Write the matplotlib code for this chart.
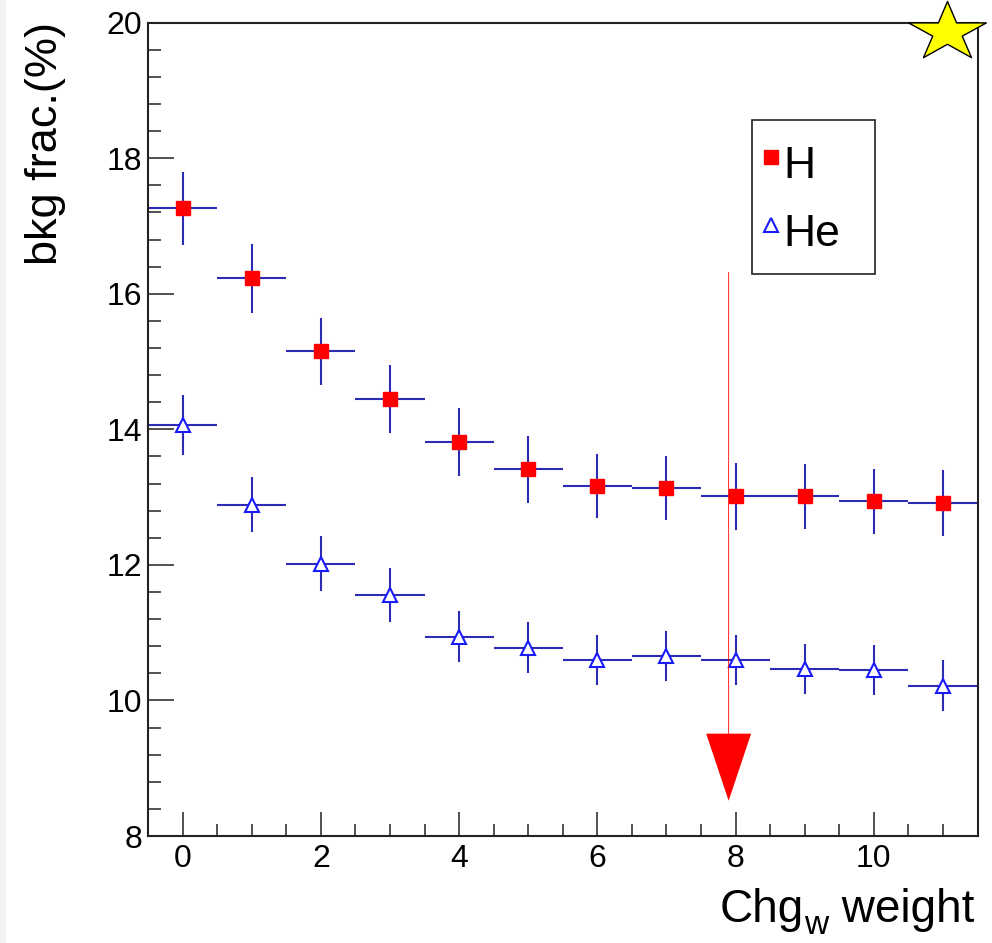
import numpy as np
import matplotlib
matplotlib.use("Agg")
import matplotlib.pyplot as plt
from matplotlib.lines import Line2D
from matplotlib.patches import Rectangle
from matplotlib.path import Path

plt.rcParams['font.family'] = ['Liberation Sans', 'DejaVu Sans']

# charge-weight bins
chg_weight = np.arange(12)
bin_half = 0.5

# background fraction (%) for H and He samples
h_frac = [17.26, 16.23, 15.15, 14.45, 13.81, 13.41, 13.16, 13.13, 13.01, 13.01, 12.94, 12.91]
h_err = [0.54, 0.51, 0.50, 0.50, 0.50, 0.49, 0.47, 0.47, 0.49, 0.48, 0.48, 0.49]
he_frac = [14.06, 12.89, 12.02, 11.56, 10.94, 10.78, 10.60, 10.65, 10.60, 10.47, 10.45, 10.22]
he_err = [0.44, 0.40, 0.40, 0.40, 0.38, 0.38, 0.37, 0.37, 0.37, 0.37, 0.37, 0.37]

# chosen cut
cut_x = 7.9
cut_top = 16.32
cut_tip = 8.52

err_color = '#2b2bb5'
W, H = 992, 943

fig = plt.figure(figsize=(W / 100, H / 100), dpi=100)
fig.patch.set_facecolor('white')
fig.add_artist(Rectangle((0, 0), 6 / W, 1, transform=fig.transFigure,
                         facecolor='#f3f3f3', edgecolor='none'))

ax = fig.add_axes([148 / W, 1 - 836 / H, 829.5 / W, 813.3 / H])

for frac, err in [(h_frac, h_err), (he_frac, he_err)]:
    ax.errorbar(chg_weight, frac, yerr=err, xerr=bin_half, fmt='none',
                ecolor=err_color, elinewidth=1.5, capsize=0, zorder=2)

ax.plot(chg_weight, h_frac, ls='none', marker='s', ms=10, mfc='red',
        mec='red', zorder=3)
ax.plot(chg_weight, he_frac, ls='none', marker='^', ms=10.5, mfc='white',
        mec='#1a1aff', mew=1.5, zorder=3)

# cut arrow
ax.arrow(cut_x, cut_top, 0, cut_tip - cut_top, width=0.012, head_width=0.65,
         head_length=0.99, length_includes_head=True, fc='red', ec='none',
         zorder=4)

ax.set_xlim(-0.5, 11.5)
ax.set_ylim(8, 20)
ax.set_xticks(np.arange(0, 11, 2))
ax.set_xticks(np.arange(-0.5, 11.6, 0.5), minor=True)
ax.set_yticks(np.arange(8, 20.1, 2))
ax.set_yticks(np.arange(8, 20.1, 0.4), minor=True)

ax.tick_params(which='both', direction='in', top=False, right=False,
               width=1.1, color='#222222', labelsize=23)
ax.tick_params(axis='y', which='major', length=18.7, pad=4)
ax.tick_params(axis='y', which='minor', length=9.4)
ax.tick_params(axis='x', which='major', length=17, pad=6)
ax.tick_params(axis='x', which='minor', length=8.6)
for sp in ax.spines.values():
    sp.set_linewidth(1.5)
    sp.set_color('#222222')

fig.text(46 / W, 1 - 22 / H, 'bkg frac.(%)', rotation=90, ha='center',
         va='top', fontsize=32.5)

# x title with a lowered subscript, laid out right to left
renderer = fig.canvas.get_renderer()
fs = 33
base_px = 922
t3 = fig.text(974 / W, 1 - base_px / H, ' weight', ha='right', va='baseline',
              fontsize=fs)
x3 = t3.get_window_extent(renderer).x0
t2 = fig.text(x3 / W, 1 - (base_px + 12) / H, 'w', ha='right', va='baseline',
              fontsize=fs * 0.73)
x2 = t2.get_window_extent(renderer).x0
fig.text(x2 / W, 1 - base_px / H, 'Chg', ha='right', va='baseline', fontsize=fs)

handles = [
    Line2D([], [], ls='none', marker='s', ms=10, mfc='red', mec='red'),
    Line2D([], [], ls='none', marker='^', ms=10.5, mfc='white', mec='#1a1aff', mew=1.5),
]
leg = ax.legend(handles, ['H', 'He'], loc='upper left',
                bbox_to_anchor=(0.728, 0.698, 0.148, 0.182), mode='expand',
                fontsize=32, frameon=True, fancybox=False, framealpha=1,
                edgecolor='#222222', borderpad=0.36, labelspacing=0.3,
                handlelength=0.15, handleheight=1.5, handletextpad=0.2,
                borderaxespad=0)
leg.get_frame().set_linewidth(1.2)

# star marker in the top-right corner
ang = np.deg2rad(90 + 36 * np.arange(10))
rad = np.where(np.arange(10) % 2 == 0, 1.0, 0.38)
verts = np.column_stack([rad * np.cos(ang), 0.76 * rad * np.sin(ang)])
star = Path(np.vstack([verts, verts[:1]]), closed=True)
fig.add_artist(Line2D([947 / W], [1 - 32.4 / H], transform=fig.transFigure,
                      marker=star, ms=56, mfc='#ffff00', mec='black',
                      mew=1.0, ls='none'))

fig.savefig('out.png', dpi=100)
